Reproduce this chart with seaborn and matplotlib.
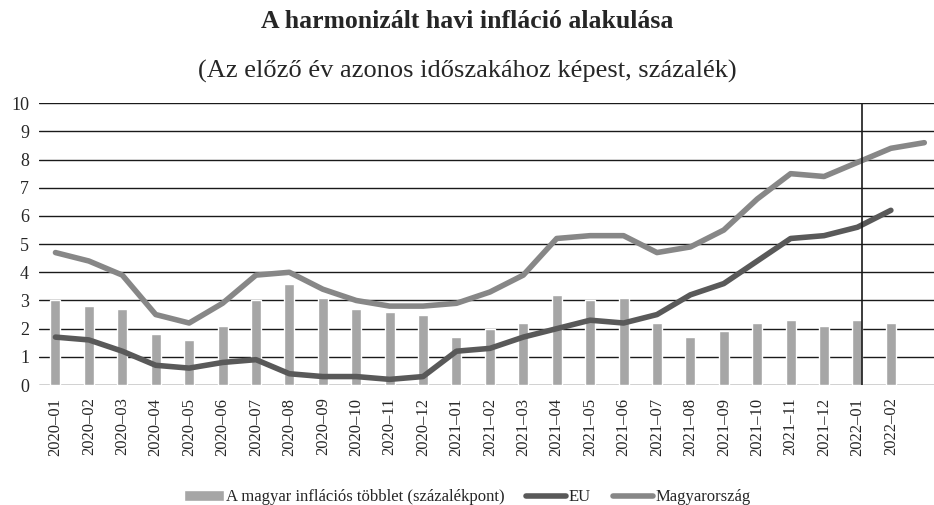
import matplotlib.pyplot as plt
import seaborn as sns
import pandas as pd

# data
months = ['2020–01', '2020–02', '2020–03', '2020–04', '2020–05', '2020–06',
          '2020–07', '2020–08', '2020–09', '2020–10', '2020–11', '2020–12',
          '2021–01', '2021–02', '2021–03', '2021–04', '2021–05', '2021–06',
          '2021–07', '2021–08', '2021–09', '2021–10', '2021–11', '2021–12',
          '2022–01', '2022–02', '']
tobblet = [3.0, 2.8, 2.7, 1.8, 1.6, 2.1, 3.0, 3.6, 3.1, 2.7, 2.6, 2.5,
           1.7, 2.0, 2.2, 3.2, 3.0, 3.1, 2.2, 1.7, 1.9, 2.2, 2.3, 2.1,
           2.3, 2.2, None]
eu = [1.7, 1.6, 1.2, 0.7, 0.6, 0.8, 0.9, 0.4, 0.3, 0.3, 0.2, 0.3,
      1.2, 1.3, 1.7, 2.0, 2.3, 2.2, 2.5, 3.2, 3.6, 4.4, 5.2, 5.3,
      5.6, 6.2, None]
magyar = [4.7, 4.4, 3.9, 2.5, 2.2, 2.9, 3.9, 4.0, 3.4, 3.0, 2.8, 2.8,
          2.9, 3.3, 3.9, 5.2, 5.3, 5.3, 4.7, 4.9, 5.5, 6.6, 7.5, 7.4,
          7.9, 8.4, 8.6]

df = pd.DataFrame({'pos': range(len(months)), 'honap': months,
                   'tobblet': tobblet, 'eu': eu, 'magyar': magyar})

sns.set_style('white')
plt.rcParams['font.family'] = ['Liberation Serif', 'DejaVu Serif']

fig = plt.figure(figsize=(9.34, 5.05), dpi=100)
# axes runs a little past the right edge, like the original
ax = fig.add_axes([0.0415, 0.2376, 0.966, 0.558])

# gridlines first, behind everything
for v in range(0, 11):
    ax.axhline(v, color='#1a1a1a', lw=1.0, zorder=0)

sns.barplot(data=df, x='pos', y='tobblet', color='#a6a6a6', width=0.3,
            saturation=1, ax=ax, zorder=2, label='A magyar inflációs többlet (százalékpont)')
sns.lineplot(data=df, x='pos', y='eu', color='#595959', lw=4,
             solid_capstyle='round', ax=ax, zorder=3, label='EU')
sns.lineplot(data=df, x='pos', y='magyar', color='#878787', lw=4,
             solid_capstyle='round', ax=ax, zorder=3, label='Magyarország')

ax.axvline(24.15, color='#1a1a1a', lw=1.2, zorder=4)

ax.set_xlim(-0.5, len(months) - 0.5)
ax.set_ylim(0, 10)
ax.set_yticks(range(0, 11))
ax.tick_params(axis='y', labelsize=13, length=0, pad=7)
ax.set_xticks(range(len(months)))
ax.set_xticklabels(months, rotation=90, fontsize=12)
ax.tick_params(axis='x', length=0, pad=9)
ax.set_xlabel('')
ax.set_ylabel('')
for s in ax.spines.values():
    s.set_visible(False)

fig.text(0.5, 0.958, 'A harmonizált havi infláció alakulása', ha='center',
         va='center', fontsize=18.5, fontweight='bold')
fig.text(0.5, 0.858, '(Az előző év azonos időszakához képest, százalék)',
         ha='center', va='center', fontsize=19)

handles, labels = ax.get_legend_handles_labels()
order = [2, 0, 1] if labels[0] == 'EU' else [0, 1, 2]
leg = fig.legend([handles[i] for i in order], [labels[i] for i in order],
                 loc='center', bbox_to_anchor=(0.5, 0.015),
                 ncol=3, frameon=False, fontsize=12, handlelength=2.4,
                 handletextpad=0.15, columnspacing=1.3)
if ax.get_legend():
    ax.get_legend().remove()

fig.savefig('out.png', dpi=100)
